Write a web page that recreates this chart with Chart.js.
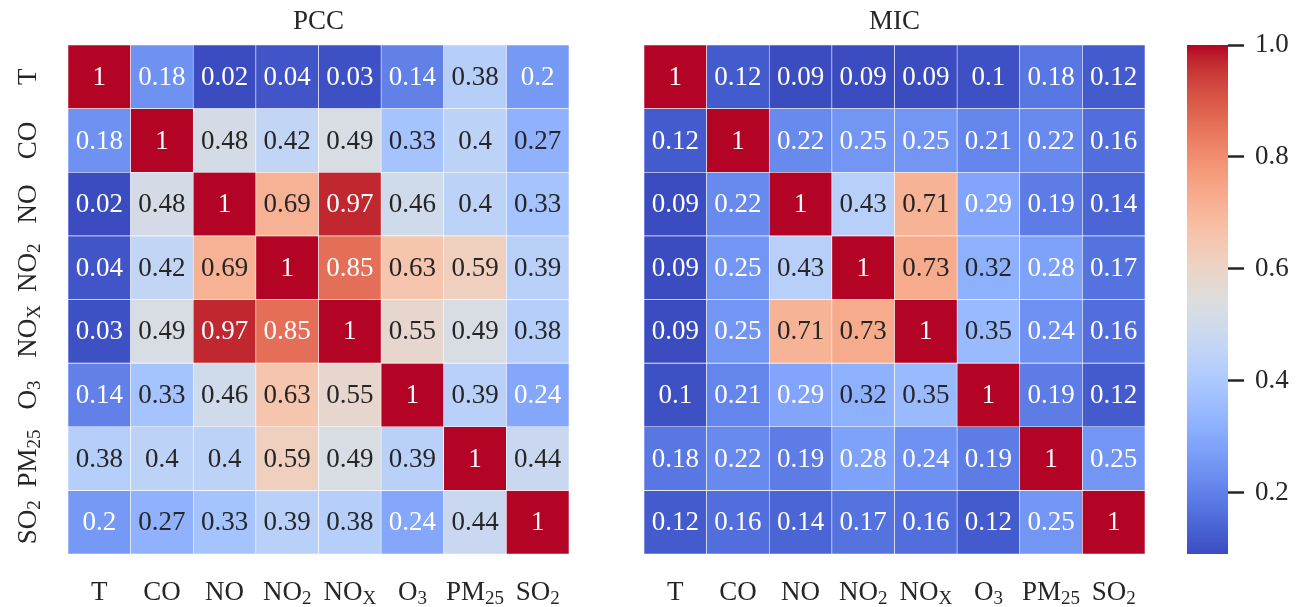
<!DOCTYPE html>
<html>
<head>
<meta charset="utf-8">
<script src="https://cdn.jsdelivr.net/npm/chart.js@4.4.0/dist/chart.umd.min.js"></script>
<style>
  body { margin: 0; background: #fff; }
  .box { position: absolute; top: 0; height: 607px; }
</style>
</head>
<body>
<div class="box" style="left:0;width:600px"><canvas id="pcc"></canvas></div>
<div class="box" style="left:600px;width:570px"><canvas id="mic"></canvas></div>
<div class="box" style="left:1170px;width:129px"><canvas id="cbar"></canvas></div>
<script>
// variable names (main text + subscript)
const varNames = ['T', 'CO', 'NO', 'NO2', 'NOX', 'O3', 'PM25', 'SO2'];
const labelMain = ['T', 'CO', 'NO', 'NO', 'NO', 'O', 'PM', 'SO'];
const labelSub = ['', '', '', '2', 'X', '3', '25', '2'];

// correlation matrices, one row per variable
const pccRows = [
  [1, 0.18, 0.02, 0.04, 0.03, 0.14, 0.38, 0.2],
  [0.18, 1, 0.48, 0.42, 0.49, 0.33, 0.4, 0.27],
  [0.02, 0.48, 1, 0.69, 0.97, 0.46, 0.4, 0.33],
  [0.04, 0.42, 0.69, 1, 0.85, 0.63, 0.59, 0.39],
  [0.03, 0.49, 0.97, 0.85, 1, 0.55, 0.49, 0.38],
  [0.14, 0.33, 0.46, 0.63, 0.55, 1, 0.39, 0.24],
  [0.38, 0.4, 0.4, 0.59, 0.49, 0.39, 1, 0.44],
  [0.2, 0.27, 0.33, 0.39, 0.38, 0.24, 0.44, 1]
];
const micRows = [
  [1, 0.12, 0.09, 0.09, 0.09, 0.1, 0.18, 0.12],
  [0.12, 1, 0.22, 0.25, 0.25, 0.21, 0.22, 0.16],
  [0.09, 0.22, 1, 0.43, 0.71, 0.29, 0.19, 0.14],
  [0.09, 0.25, 0.43, 1, 0.73, 0.32, 0.28, 0.17],
  [0.09, 0.25, 0.71, 0.73, 1, 0.35, 0.24, 0.16],
  [0.1, 0.21, 0.29, 0.32, 0.35, 1, 0.19, 0.12],
  [0.18, 0.22, 0.19, 0.28, 0.24, 0.19, 1, 0.25],
  [0.12, 0.16, 0.14, 0.17, 0.16, 0.12, 0.25, 1]
];

// colour ranges (each heatmap scaled to its own min; the bar shows the MIC one)
const pccMin = 0.02;
const micMin = 0.09;
const vmax = 1.0;
const cbarTicks = [0.2, 0.4, 0.6, 0.8, 1.0];

const FONT = '"Liberation Serif", "DejaVu Serif", serif';
const TEXT = '#262626';

// coolwarm (Moreland) table, 33 steps
const coolwarm = [
  [59,76,192],[68,90,204],[77,104,215],[87,117,225],[98,130,234],[108,142,241],
  [119,154,247],[130,165,251],[141,176,254],[152,185,255],[163,194,255],[174,201,253],
  [184,208,249],[194,213,244],[204,217,238],[213,219,230],[221,221,221],[229,216,209],
  [236,211,197],[241,204,185],[245,196,173],[247,187,160],[247,177,148],[247,166,135],
  [244,154,123],[241,141,111],[236,127,99],[229,112,88],[222,96,77],[213,80,66],
  [203,62,56],[192,40,47],[180,4,38]
];

function cmap(t) {
  t = Math.max(0, Math.min(1, t));
  const p = t * (coolwarm.length - 1);
  const i = Math.min(Math.floor(p), coolwarm.length - 2);
  const f = p - i;
  const a = coolwarm[i], b = coolwarm[i + 1];
  return [0, 1, 2].map(k => Math.round(a[k] + (b[k] - a[k]) * f));
}

function colorFor(v, lo) {
  const c = cmap((v - lo) / (vmax - lo));
  return `rgb(${c[0]},${c[1]},${c[2]})`;
}

// same rule seaborn uses for annotation colour
function textColorFor(v, lo) {
  const c = cmap((v - lo) / (vmax - lo)).map(x => {
    x = x / 255;
    return x <= 0.03928 ? x / 12.92 : Math.pow((x + 0.055) / 1.055, 2.4);
  });
  const lum = 0.2126 * c[0] + 0.7152 * c[1] + 0.0722 * c[2];
  return lum > 0.408 ? TEXT : '#fff';
}

// draws a label like NO2 with the subscript smaller and lower, centred on (x, y baseline)
function drawSubLabel(ctx, main, sub, x, y) {
  ctx.font = `27px ${FONT}`;
  const w1 = ctx.measureText(main).width;
  ctx.font = `19px ${FONT}`;
  const w2 = sub ? ctx.measureText(sub).width : 0;
  const start = x - (w1 + w2) / 2;
  ctx.textAlign = 'left';
  ctx.textBaseline = 'alphabetic';
  ctx.font = `27px ${FONT}`;
  ctx.fillText(main, start, y);
  if (sub) {
    ctx.font = `19px ${FONT}`;
    ctx.fillText(sub, start + w1, y + 4);
  }
}

const heatPlugin = {
  id: 'heatText',
  afterDatasetsDraw(chart, args, opts) {
    const ctx = chart.ctx;
    const area = chart.chartArea;
    ctx.save();
    // cell values
    ctx.font = `27px ${FONT}`;
    ctx.textAlign = 'center';
    ctx.textBaseline = 'middle';
    chart.data.datasets.forEach((ds, i) => {
      chart.getDatasetMeta(i).data.forEach((el, j) => {
        const v = ds.data[j].v;
        ctx.fillStyle = textColorFor(v, opts.lo);
        ctx.fillText(String(v), el.x, (el.y + el.base) / 2 + 1);
      });
    });
    // title
    ctx.fillStyle = TEXT;
    ctx.font = `27px ${FONT}`;
    ctx.textBaseline = 'alphabetic';
    ctx.fillText(opts.title, (area.left + area.right) / 2, 29);
    // x tick labels
    const xs = chart.scales.x;
    ctx.fillStyle = TEXT;
    varNames.forEach((n, j) => {
      drawSubLabel(ctx, labelMain[j], labelSub[j], xs.getPixelForValue(j), 600);
    });
    // y tick labels, rotated
    if (opts.yLabels) {
      const ys = chart.scales.y;
      varNames.forEach((n, i) => {
        ctx.save();
        ctx.translate(35.5, ys.getPixelForValue(i + 0.5));
        ctx.rotate(-Math.PI / 2);
        drawSubLabel(ctx, labelMain[i], labelSub[i], 0, 0);
        ctx.restore();
      });
    }
    ctx.restore();
  }
};

function makeHeatmap(id, rows, lo, title, yLabels, padding) {
  return new Chart(document.getElementById(id), {
    type: 'bar',
    data: {
      labels: varNames,
      datasets: rows.map((row, i) => ({
        label: varNames[i],
        data: row.map((v, j) => ({ x: varNames[j], y: 1, v: v })),
        backgroundColor: c => colorFor(c.raw.v, lo),
        borderColor: 'rgba(255,255,255,0.85)',
        borderWidth: 0.6,
        borderSkipped: false,
        barPercentage: 1,
        categoryPercentage: 1
      }))
    },
    options: {
      responsive: true,
      maintainAspectRatio: false,
      animation: false,
      layout: { padding: padding },
      scales: {
        x: { stacked: true, display: false },
        y: { stacked: true, display: false, reverse: true, min: 0, max: rows.length }
      },
      plugins: {
        legend: { display: false },
        tooltip: { enabled: false },
        heatText: { title: title, yLabels: yLabels, lo: lo }
      }
    },
    plugins: [heatPlugin]
  });
}

makeHeatmap('pcc', pccRows, pccMin, 'PCC', true, { left: 68, right: 31, top: 45, bottom: 53 });
makeHeatmap('mic', micRows, micMin, 'MIC', false, { left: 44, right: 25, top: 45, bottom: 53 });

// colour bar: a single floating bar from micMin to vmax filled with the colormap
new Chart(document.getElementById('cbar'), {
  type: 'bar',
  data: {
    labels: ['cbar'],
    datasets: [{
      data: [[micMin, vmax]],
      backgroundColor: c => {
        const a = c.chart.chartArea;
        if (!a) return '#ccc';
        const g = c.chart.ctx.createLinearGradient(0, a.bottom, 0, a.top);
        coolwarm.forEach((col, k) => {
          g.addColorStop(k / (coolwarm.length - 1), `rgb(${col[0]},${col[1]},${col[2]})`);
        });
        return g;
      },
      borderWidth: 0,
      barPercentage: 1,
      categoryPercentage: 1
    }]
  },
  options: {
    responsive: true,
    maintainAspectRatio: false,
    animation: false,
    layout: { padding: { left: 17, top: 45, bottom: 53, right: 0 } },
    scales: {
      x: { display: false },
      y: {
        position: 'right',
        min: micMin,
        max: vmax,
        afterBuildTicks: s => { s.ticks = cbarTicks.map(v => ({ value: v })); },
        afterFit: s => { s.width = 71; },
        border: { display: false },
        grid: {
          drawOnChartArea: false,
          drawTicks: true,
          tickLength: 16,
          tickWidth: 2.5,
          tickColor: TEXT
        },
        ticks: {
          padding: 11,
          color: TEXT,
          font: { family: FONT, size: 27 },
          callback: v => v.toFixed(1)
        }
      }
    },
    plugins: { legend: { display: false }, tooltip: { enabled: false } }
  }
});
</script>
</body>
</html>
